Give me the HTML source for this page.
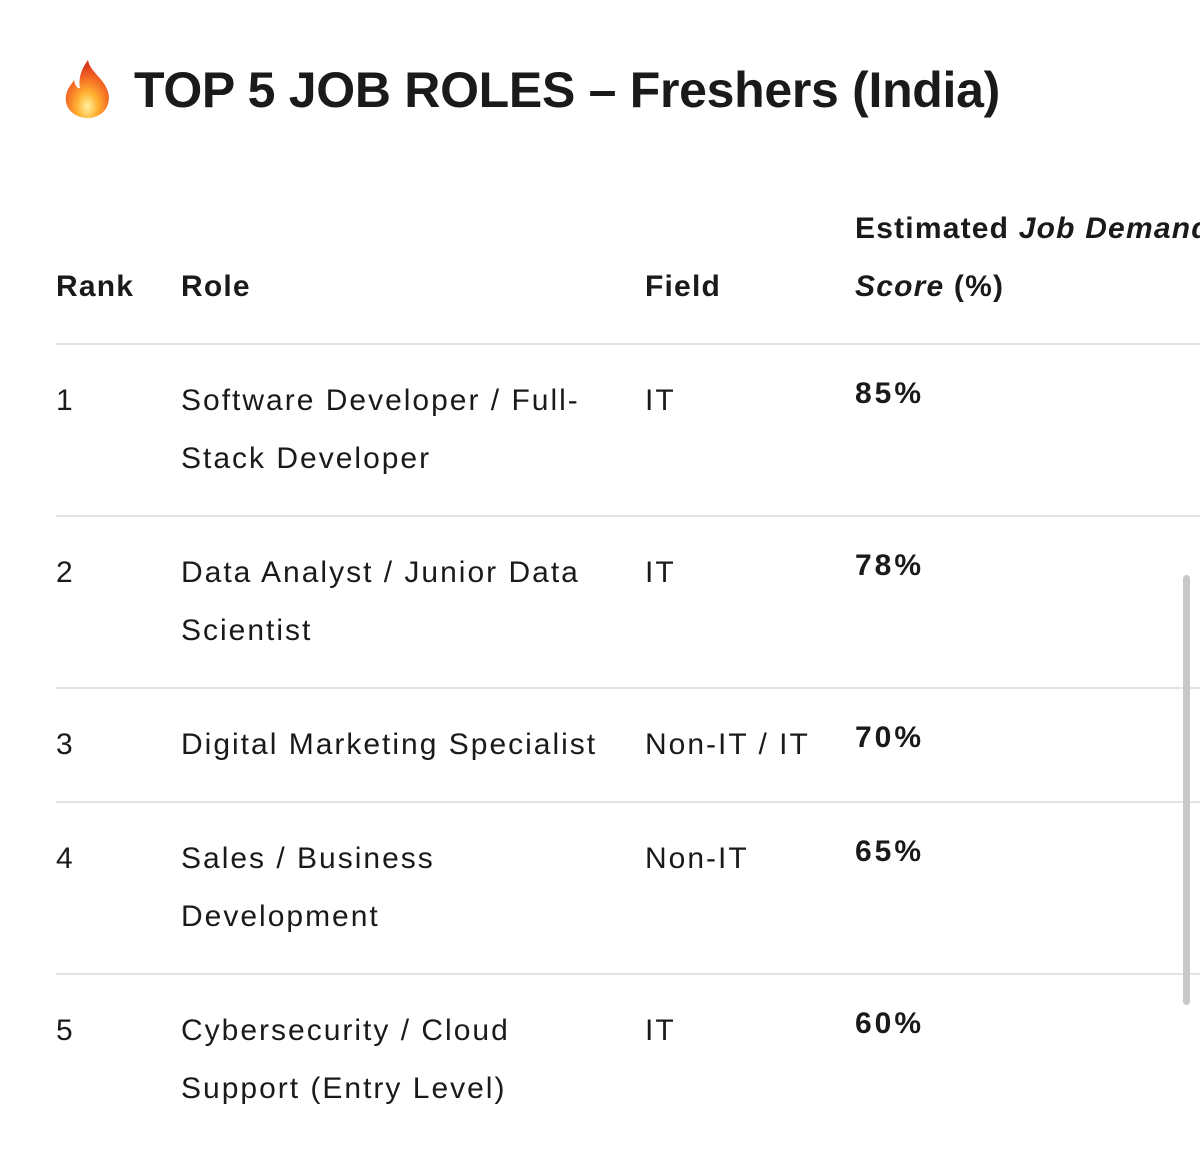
<!DOCTYPE html>
<html><head><meta charset="utf-8"><style>
body{margin:0;width:1200px;height:1166px;background:#fff;position:relative;overflow:hidden;font-family:"Liberation Sans",sans-serif;color:#1a1a1a}
.t{position:absolute;white-space:nowrap;font-size:30px;line-height:58px;letter-spacing:2px}
.h{font-weight:bold;letter-spacing:1.2px}
.b{font-weight:bold;letter-spacing:3px}
.line{position:absolute;left:56px;right:0;height:2px;background:#e3e3e3}
</style></head><body>
<svg style="position:absolute;left:60px;top:58px" width="56" height="62" viewBox="0 0 56 62">
<defs><radialGradient id="g" cx="0.5" cy="0.8" r="0.7"><stop offset="0" stop-color="#fff3a0"/><stop offset="0.35" stop-color="#ffb030"/><stop offset="0.8" stop-color="#f05a22"/><stop offset="1" stop-color="#d83a1e"/></radialGradient></defs>
<path d="M28 2 C30 14 44 20 48 34 C52 48 42 60 28 60 C14 60 4 50 6 38 C7 30 12 26 14 22 C15 28 18 31 20 30 C18 20 22 10 28 2 Z" fill="url(#g)"/>
</svg>
<div class="t" style="left:134px;top:58px;font-size:50px;line-height:64px;font-weight:bold;letter-spacing:-0.3px">TOP 5 JOB ROLES – Freshers (India)</div>

<div class="t h" style="left:56px;top:258px">Rank</div>
<div class="t h" style="left:181px;top:258px">Role</div>
<div class="t h" style="left:645px;top:258px">Field</div>
<div class="t h" style="left:855px;top:200px">Estimated <i>Job Demand</i><br><i>Score</i> (%)</div>

<div class="line" style="top:343px"></div>

<div class="t" style="left:56px;top:372px">1</div>
<div class="t" style="left:181px;top:372px">Software Developer / Full-<br>Stack Developer</div>
<div class="t" style="left:645px;top:372px">IT</div>
<div class="t b" style="left:855px;top:365px">85%</div>
<div class="line" style="top:515px"></div>

<div class="t" style="left:56px;top:544px">2</div>
<div class="t" style="left:181px;top:544px">Data Analyst / Junior Data<br>Scientist</div>
<div class="t" style="left:645px;top:544px">IT</div>
<div class="t b" style="left:855px;top:537px">78%</div>
<div class="line" style="top:687px"></div>

<div class="t" style="left:56px;top:716px">3</div>
<div class="t" style="left:181px;top:716px">Digital Marketing Specialist</div>
<div class="t" style="left:645px;top:716px">Non-IT / IT</div>
<div class="t b" style="left:855px;top:709px">70%</div>
<div class="line" style="top:801px"></div>

<div class="t" style="left:56px;top:830px">4</div>
<div class="t" style="left:181px;top:830px">Sales / Business<br>Development</div>
<div class="t" style="left:645px;top:830px">Non-IT</div>
<div class="t b" style="left:855px;top:823px">65%</div>
<div class="line" style="top:973px"></div>

<div class="t" style="left:56px;top:1002px">5</div>
<div class="t" style="left:181px;top:1002px">Cybersecurity / Cloud<br>Support (Entry Level)</div>
<div class="t" style="left:645px;top:1002px">IT</div>
<div class="t b" style="left:855px;top:995px">60%</div>

<div style="position:absolute;left:1183px;top:575px;width:7px;height:430px;border-radius:4px;background:#c8c8c8"></div>
</body></html>
